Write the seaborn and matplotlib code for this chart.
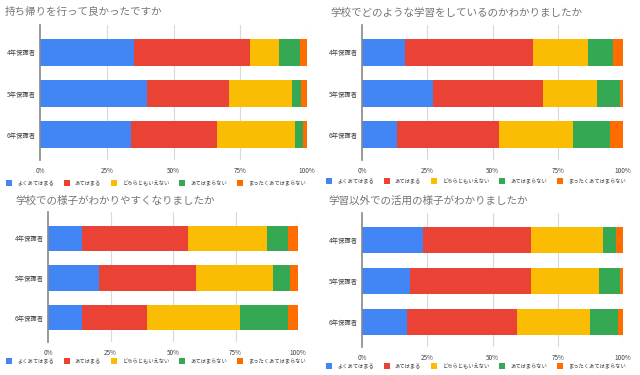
import numpy as np
import pandas as pd
import seaborn as sns
import matplotlib.pyplot as plt
from matplotlib.patches import Patch

sns.set_style("white")
plt.rcParams['font.family'] = ['Noto Sans CJK JP', 'DejaVu Sans']

# data (percent of respondents)
groups = ["4年保護者", "5年保護者", "6年保護者"]
answers = ["よくあてはまる", "あてはまる", "どちらともいえない", "あてはまらない", "まったくあてはまらない"]
colors = ["#4285F4", "#EA4335", "#FBBC04", "#34A853", "#FF6D01"]
titles = ["持ち帰りを行って良かったですか",
          "学校でどのような学習をしているのかわかりましたか",
          "学校での様子がわかりやすくなりましたか",
          "学習以外での活用の様子がわかりましたか"]

# one row per group, one column per answer
q1 = [[35.3, 43.3, 10.8, 7.9, 2.7],
      [39.9, 30.8, 23.8, 3.4, 2.1],
      [33.9, 32.4, 29.1, 3.0, 1.6]]
q2 = [[16.6, 49.1, 20.7, 9.8, 3.8],
      [27.3, 42.0, 20.6, 9.1, 1.0],
      [13.6, 38.9, 28.2, 14.4, 4.9]]
q3 = [[13.7, 42.3, 31.5, 8.6, 3.9],
      [20.5, 38.6, 30.9, 6.8, 3.2],
      [13.6, 26.1, 37.2, 19.2, 3.9]]
q4 = [[23.4, 41.4, 27.4, 5.0, 2.8],
      [18.2, 46.6, 26.1, 8.1, 1.0],
      [17.3, 42.0, 28.2, 10.6, 1.9]]
ticks = [0, 25, 50, 75, 100]
tick_labels = ["0%", "25%", "50%", "75%", "100%"]

W, H = 640, 375
fig = plt.figure(figsize=(W / 100, H / 100), dpi=100)

# layout in pixels: axes box (l, t, r, b), title pos, legend centre
panels = [
    (q1, (40, 25, 307, 160), (5, 12), (156, 183)),
    (q2, (362, 25, 623, 160), (330, 13), (476, 181)),
    (q3, (48, 212, 298, 342), (15, 201), (156, 361)),
    (q4, (362, 213, 623, 347), (328, 201), (476, 366)),
]

for (vals, (l, t, r, b), (tx, ty), (lx, ly)), title in zip(panels, titles):
    ax = fig.add_axes([l / W, 1 - b / H, (r - l) / W, (b - t) / H])
    df = pd.DataFrame(vals, columns=answers)
    df.insert(0, "group", groups)
    cum = df[answers].cumsum(axis=1)
    # draw from the total downwards so each segment sits on top
    for ans, col in reversed(list(zip(answers, colors))):
        sns.barplot(x=cum[ans], y=df["group"], color=col, orient="h",
                    width=0.64, saturation=1, linewidth=0, edgecolor="none",
                    ax=ax, zorder=2)
    ax.set_xlim(0, 100)
    ax.set_ylim(2.62, -0.67)
    ax.set_xticks(ticks)
    ax.set_xticklabels(tick_labels)
    ax.set_xlabel("")
    ax.set_ylabel("")
    ax.tick_params(axis="both", length=0, labelsize=4.6, colors="#444444")
    ax.tick_params(axis="y", pad=3)
    ax.tick_params(axis="x", pad=5)
    for x in ticks[1:]:
        ax.axvline(x, color="#d9d9d9", lw=0.8, zorder=1)
    for s in ["top", "right", "bottom"]:
        ax.spines[s].set_visible(False)
    ax.spines["left"].set_color("#888888")
    ax.spines["left"].set_linewidth(1.2)
    ax.spines["left"].set_zorder(3)

    fig.text(tx / W, 1 - ty / H, title, fontsize=7.6, color="#757575",
             ha="left", va="center")

    handles = [Patch(facecolor=c, edgecolor="none") for c in colors]
    fig.legend(handles, answers, loc="center", bbox_to_anchor=(lx / W, 1 - ly / H),
               ncol=5, frameon=False, fontsize=3.8, labelcolor="#444444",
               handlelength=1.1, handleheight=1.2, handletextpad=1.0,
               columnspacing=1.9, borderpad=0)

fig.savefig("out.png", dpi=100)
